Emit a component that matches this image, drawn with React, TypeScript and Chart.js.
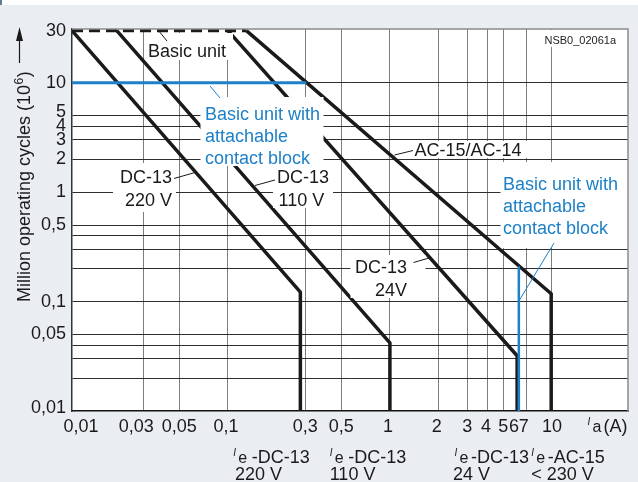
import { useEffect, useRef } from "react";
import { Chart, registerables } from "chart.js";

Chart.register(...registerables);

const FONT = '"Liberation Sans", Arial, Helvetica, sans-serif';

// ---- data (x = Ia in A, y = million operating cycles) ----
const basicUnitX = [0.0109, 0.13];
const basicUnitY = [30, 30];
const dc13_220V_X = [0.0109, 0.28, 0.28];
const dc13_220V_Y = [30, 0.122, 0.01];
const dc13_110V_X = [0.0206, 1.0, 1.0];
const dc13_110V_Y = [30, 0.042, 0.01];
const dc13_24V_X = [0.1, 6.1, 6.1];
const dc13_24V_Y = [30, 0.032, 0.01];
const ac15_X = [0.13, 9.9, 9.9];
const ac15_Y = [30, 0.118, 0.01];
const blockHorizX = [0.0109, 0.305];
const blockHorizY = [10, 10];
const blockVertX = [6.25, 6.25];
const blockVertY = [0.21, 0.01];

const xGridValues = [0.03, 0.05, 0.1, 0.3, 0.5, 1, 2, 3, 4, 5, 7, 10];
const xTickValues = [0.01, 0.03, 0.05, 0.1, 0.3, 0.5, 1, 2, 3, 4, 5, 6, 7, 10];
const xTickLabels = ["0,01", "0,03", "0,05", "0,1", "0,3", "0,5", "1", "2", "3", "4", "5", "6", "7", "10"];
const yGridValues = [0.02, 0.03, 0.04, 0.05, 0.1, 0.2, 0.3, 0.4, 0.5, 1, 2, 3, 4, 5, 10];
const yTickValues = [0.01, 0.05, 0.1, 0.5, 1, 2, 3, 4, 5, 10, 30];
const yTickLabels = ["0,01", "0,05", "0,1", "0,5", "1", "2", "3", "4", "5", "10", "30"];

const BLACK = "#1a1a1a";
const BLUE = "#1e80c6";

const pts = (xs: number[], ys: number[]) => xs.map((x, i) => ({ x, y: ys[i] }));

const decor = {
  id: "decor",
  beforeDraw(chart: any) {
    const { ctx, chartArea: a, width, height } = chart;
    ctx.save();
    ctx.fillStyle = "#eaeef2";
    ctx.fillRect(0, 0, width, height);
    ctx.fillStyle = "#ffffff";
    ctx.fillRect(0, 0, width, 5);
    ctx.fillStyle = "#5d7d94";
    ctx.fillRect(0, 0, 2, 5);
    ctx.fillStyle = "#ffffff";
    ctx.fillRect(a.left, a.top, a.right - a.left, a.bottom - a.top);
    ctx.restore();
  },
  afterDatasetsDraw(chart: any) {
    const { ctx, chartArea: a } = chart;
    ctx.save();
    // white label boxes
    ctx.fillStyle = "#ffffff";
    const boxes = [
      [147, 33, 86, 27],
      [200.5, 97, 123, 69],
      [113, 163, 63, 49],
      [273, 165, 60, 43],
      [350.5, 255, 75, 43],
      [413, 141, 114, 17],
      [500.5, 162, 128, 86],
      [541, 30, 82, 17],
    ];
    boxes.forEach(([x, y, w, h]) => ctx.fillRect(x, y, w, h));

    // leaders
    const leader = (x1: number, y1: number, x2: number, y2: number, c: string) => {
      ctx.strokeStyle = c;
      ctx.lineWidth = 1;
      ctx.beginPath();
      ctx.moveTo(x1, y1);
      ctx.lineTo(x2, y2);
      ctx.stroke();
    };
    leader(158, 30, 167, 41, BLACK);
    leader(210, 86, 220, 98, BLUE);
    leader(174, 178.5, 195, 172.5, BLACK);
    leader(255, 185.5, 275, 180, BLACK);
    leader(394.5, 155, 413, 150.5, BLACK);
    leader(413.5, 262.5, 429, 258, BLACK);
    leader(554, 243, 519.5, 300, BLUE);

    // annotation texts
    ctx.textAlign = "left";
    ctx.textBaseline = "alphabetic";
    ctx.font = `18px ${FONT}`;
    ctx.fillStyle = BLACK;
    ctx.fillText("Basic unit", 148, 57);
    ctx.fillText("DC-13", 120, 183);
    ctx.fillText("220 V", 125, 206);
    ctx.fillText("DC-13", 277, 182.5);
    ctx.fillText("110 V", 278.5, 206);
    ctx.fillText("AC-15/AC-14", 414.5, 155.5);
    ctx.fillText("DC-13", 355, 273);
    ctx.fillText("24V", 375, 296);
    ctx.fillStyle = BLUE;
    ctx.fillText("Basic unit with", 205, 119.5);
    ctx.fillText("attachable", 205, 141.5);
    ctx.fillText("contact block", 205, 164);
    ctx.fillText("Basic unit with", 503, 190);
    ctx.fillText("attachable", 503, 211.5);
    ctx.fillText("contact block", 503, 234);
    ctx.fillStyle = "#222";
    ctx.font = `11px ${FONT}`;
    ctx.fillText("NSB0_02061a", 544.5, 43.5);

    // top & right frame
    ctx.strokeStyle = "#8a8a8a";
    ctx.lineWidth = 1.5;
    ctx.beginPath();
    ctx.moveTo(a.left, a.top);
    ctx.lineTo(a.right, a.top);
    ctx.lineTo(a.right, a.bottom);
    ctx.stroke();
    ctx.restore();
  },
  afterDraw(chart: any) {
    const { ctx } = chart;
    const xs = chart.scales.x;
    const ys = chart.scales.y;
    ctx.save();
    ctx.fillStyle = BLACK;
    // y tick labels
    const yShift: Record<string, number> = { "5": -3.5, "0.01": -3, "30": 0.5 };
    ctx.font = `18px ${FONT}`;
    ctx.textAlign = "right";
    ctx.textBaseline = "middle";
    yTickValues.forEach((v, i) => {
      const py = ys.getPixelForValue(v) + (yShift[String(v)] || 0);
      ctx.fillText(yTickLabels[i], 66, py);
    });
    // x tick labels
    ctx.textBaseline = "alphabetic";
    const shift: Record<string, number> = { "0.01": 15, "0.03": -7, "0.1": -2, "1": -2, "2": -2, "4": -1.5, "6": -2, "7": -3 };
    ctx.textAlign = "center";
    xTickValues.forEach((v, i) => {
      const px = xs.getPixelForValue(v) + (shift[String(v)] || 0);
      ctx.fillText(xTickLabels[i], px, 431.5);
    });
    // italic I with subscript
    ctx.textAlign = "left";
    const ie = (x: number, b: number, sub: string, rest: string, restDx: number) => {
      ctx.font = `italic 10px ${FONT}`;
      ctx.fillText("I", x, b - 7);
      ctx.font = `16px ${FONT}`;
      ctx.fillText(sub, x + 5, b);
      ctx.font = `18px ${FONT}`;
      ctx.fillText(rest, x + restDx, b);
    };
    ie(587.5, 431.5, "a", "(A)", 16);
    ie(233.3, 462.5, "e", "-DC-13", 18.5);
    ie(329.7, 462.5, "e", "-DC-13", 18.5);
    ie(454.5, 462.5, "e", "-DC-13", 16.5);
    ie(531.3, 462.5, "e", "-AC-15", 16.5);
    ctx.font = `18px ${FONT}`;
    ctx.fillText("220 V", 235, 480);
    ctx.fillText("110 V", 329.7, 480);
    ctx.fillText("24 V", 453, 480);
    ctx.fillText("< 230 V", 531.3, 480);

    // y title
    ctx.save();
    ctx.translate(29.8, 302);
    ctx.rotate(-Math.PI / 2);
    ctx.font = `18px ${FONT}`;
    const t1 = "Million operating cycles (10";
    ctx.fillText(t1, 0, 0);
    const w1 = ctx.measureText(t1).width;
    ctx.font = `12px ${FONT}`;
    ctx.fillText("6", w1 + 0.5, -7);
    const w2 = ctx.measureText("6").width;
    ctx.font = `18px ${FONT}`;
    ctx.fillText(")", w1 + w2 + 1, 0);
    ctx.restore();
    // arrow
    ctx.strokeStyle = BLACK;
    ctx.lineWidth = 1.2;
    ctx.beginPath();
    ctx.moveTo(19.5, 63);
    ctx.lineTo(19.5, 38);
    ctx.stroke();
    ctx.beginPath();
    ctx.moveTo(19.5, 27);
    ctx.lineTo(16, 41);
    ctx.lineTo(23, 41);
    ctx.closePath();
    ctx.fill();
    ctx.restore();
  },
};

export default function App() {
  const ref = useRef<HTMLCanvasElement>(null);
  useEffect(() => {
    const line = (xs: number[], ys: number[], color: string, width: number, dash: number[] = []) => ({
      data: pts(xs, ys),
      borderColor: color,
      borderWidth: width,
      borderDash: dash,
      pointRadius: 0,
      tension: 0,
      fill: false,
      borderJoinStyle: "miter" as const,
      borderCapStyle: "butt" as const,
    });
    const chart = new Chart(ref.current!, {
      type: "line",
      data: {
        datasets: [
          line(blockVertX, blockVertY, BLUE, 2.5),
          line(blockHorizX, blockHorizY, BLUE, 3),
          line(basicUnitX, basicUnitY, BLACK, 3.5, [11, 6]),
          line(dc13_220V_X, dc13_220V_Y, BLACK, 3.5),
          line(dc13_110V_X, dc13_110V_Y, BLACK, 3.5),
          line(dc13_24V_X, dc13_24V_Y, BLACK, 3.5),
          line(ac15_X, ac15_Y, BLACK, 3.5),
        ],
      },
      options: {
        responsive: false,
        devicePixelRatio: 1,
        animation: false,
        events: [],
        layout: { padding: { top: 29, right: 10, left: 0, bottom: 0 } },
        plugins: { legend: { display: false }, tooltip: { enabled: false } },
        scales: {
          x: {
            type: "logarithmic",
            min: 0.0109,
            max: 29.5,
            afterBuildTicks: (s: any) => {
              s.ticks = xGridValues.map((v) => ({ value: v }));
            },
            afterFit: (s: any) => {
              s.height = 71;
            },
            ticks: { display: false },
            grid: { color: "#7d7d7d", lineWidth: 1, drawTicks: false },
            border: { display: true, color: "#111111", width: 1.5 },
          },
          y: {
            type: "logarithmic",
            min: 0.01,
            max: 31,
            afterBuildTicks: (s: any) => {
              s.ticks = yGridValues.map((v) => ({ value: v }));
            },
            afterFit: (s: any) => {
              s.width = 72;
            },
            ticks: { display: false },
            grid: { drawTicks: false, lineWidth: 1, color: "#2e2e2e" },
            border: { display: true, color: "#333333", width: 1.5 },
          },
        },
      },
      plugins: [decor],
    });
    return () => chart.destroy();
  }, []);
  return (
    <div style={{ position: "fixed", left: 0, top: 0, width: 638, height: 482 }}>
      <canvas ref={ref} width={638} height={482} style={{ display: "block", width: 638, height: 482 }} />
    </div>
  );
}
